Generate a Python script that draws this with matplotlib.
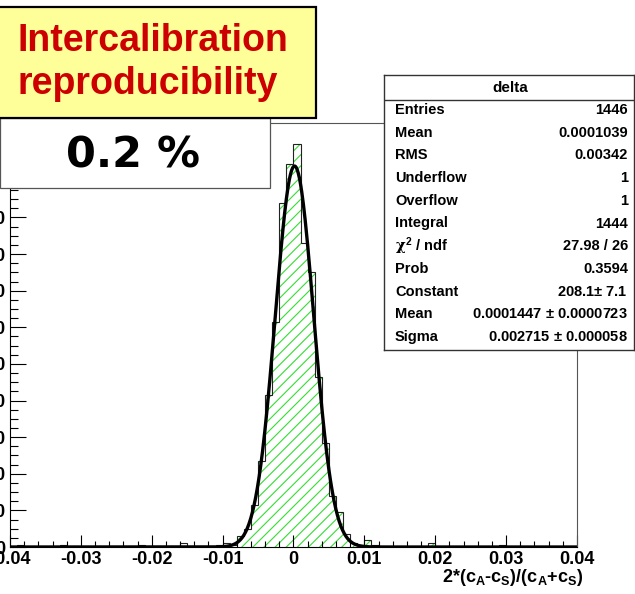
import matplotlib.pyplot as plt
import matplotlib.patches as patches
import numpy as np

plt.rcParams['font.family'] = ['Liberation Sans', 'DejaVu Sans']
plt.rcParams['font.weight'] = 'bold'
plt.rcParams['mathtext.fontset'] = 'custom'
plt.rcParams['mathtext.rm'] = 'Liberation Sans:bold'
plt.rcParams['mathtext.bf'] = 'Liberation Sans:bold'
plt.rcParams['mathtext.it'] = 'DejaVu Serif'
plt.rcParams['hatch.linewidth'] = 0.8

# histogram: 80 bins of 0.001 in [-0.04, 0.04]
x_min = -0.04
x_max = 0.04
nbin = 80
# central part, bins starting at -0.012
core_start = -0.012
core_counts = [0, 1, 2, 1, 6, 10, 23, 47, 83, 123, 188, 209,
               220, 166, 150, 93, 57, 28, 19, 7, 2, 1, 4, 1]
# isolated entries in the tails (bin lower edge, count)
tail_lo = [-0.039, -0.033, -0.022, -0.016, 0.019, 0.029]
tail_counts = [1, 1, 1, 2, 2, 1]

# fit result from the stat box
fit_const = 208.1
fit_mean = 0.0001447
fit_sigma = 0.002715

stat_names = ['Entries', 'Mean', 'RMS', 'Underflow', 'Overflow', 'Integral',
              r'$\chi^{2}$ / ndf', 'Prob', 'Constant', 'Mean', 'Sigma']
stat_values = ['1446', '0.0001039', '0.00342', '1', '1', '1444',
               '27.98 / 26', '0.3594', r'208.1$\pm$ 7.1',
               r'0.0001447 $\pm$ 0.0000723', r'0.002715 $\pm$ 0.000058']

edges = np.linspace(x_min, x_max, nbin + 1)
counts = np.zeros(nbin)
i0 = int(round((core_start - x_min) / 0.001))
counts[i0:i0 + len(core_counts)] = core_counts
for lo, c in zip(tail_lo, tail_counts):
    counts[int(round((lo - x_min) / 0.001))] += c

W, H = 635, 594
fig = plt.figure(figsize=(W / 100, H / 100), dpi=100)
ax = fig.add_axes([10 / W, 1 - 547 / H, 567 / W, 424 / H])

ax.stairs(counts, edges, fill=True, facecolor='none', edgecolor='#33dd33',
          hatch='///', linewidth=0)
ax.stairs(counts, edges, color='#222222', linewidth=0.8)

xf = np.linspace(x_min, x_max, 1000)
ax.plot(xf, fit_const * np.exp(-0.5 * ((xf - fit_mean) / fit_sigma) ** 2),
        color='black', lw=2.4, solid_capstyle='butt')

ax.set_xlim(x_min, x_max)
ax.set_ylim(0, 231.6)
ax.set_xticks(np.arange(-0.04, 0.0401, 0.01))
ax.set_xticklabels(['-0.04', '-0.03', '-0.02', '-0.01', '0', '0.01', '0.02', '0.03', '0.04'])
ax.set_xticks(np.arange(-0.04, 0.0401, 0.002), minor=True)
ax.set_yticks(np.arange(0, 201, 20))
ax.set_yticks(np.arange(0, 231, 5), minor=True)
ax.tick_params(axis='both', which='both', direction='in', width=0.8, labelsize=13)
ax.tick_params(axis='x', which='major', length=8.5, pad=3)
ax.tick_params(axis='x', which='minor', length=4.3)
ax.tick_params(axis='y', which='major', length=11.5, pad=3)
ax.tick_params(axis='y', which='minor', length=5.8)
for lab in ax.get_xticklabels() + ax.get_yticklabels():
    lab.set_fontweight('bold')
ax.spines['top'].set_color('#555555')
ax.spines['right'].set_color('#555555')
ax.spines['top'].set_linewidth(0.8)
ax.spines['right'].set_linewidth(0.8)

fig.text(583 / W, 1 - 578 / H,
         r'2*(c$_{\mathbf{A}}$-c$_{\mathbf{S}}$)/(c$_{\mathbf{A}}$+c$_{\mathbf{S}}$)',
         ha='right', va='center', fontsize=13, fontweight='bold')

# stat box
sb = fig.add_axes([384 / W, 1 - 350 / H, 250 / W, 275 / H])
sb.set_xlim(384, 634)
sb.set_ylim(350, 75)
sb.set_xticks([])
sb.set_yticks([])
sb.set_facecolor('white')
for s in sb.spines.values():
    s.set_color('#333333')
    s.set_linewidth(1.0)
sb.axhline(100, color='#333333', lw=1.0)
sb.text(510, 88, 'delta', ha='center', va='center', fontsize=11, fontweight='bold')
for k in range(len(stat_names)):
    y = 110 + k * 22.7
    sb.text(395, y, stat_names[k], ha='left', va='center', fontsize=10.5, fontweight='bold')
    sb.text(628, y, stat_values[k], ha='right', va='center', fontsize=10.5, fontweight='bold')

# title boxes
fig.add_artist(patches.Rectangle((0, 1 - 188 / H), 270 / W, 70 / H, transform=fig.transFigure,
                                 facecolor='white', edgecolor='#555555', lw=0.9))
fig.text(133 / W, 1 - 155 / H, '0.2 %', family='DejaVu Sans', fontweight='bold',
         fontsize=31, ha='center', va='center')
fig.add_artist(patches.Rectangle((-2 / W, 1 - 118 / H), 318 / W, 111 / H, transform=fig.transFigure,
                                 facecolor='#ffff99', edgecolor='black', lw=1.6))
fig.text(18 / W, 1 - 41 / H, 'Intercalibration', color='#cc0000', fontweight='bold',
         fontsize=27, ha='left', va='center')
fig.text(18 / W, 1 - 84 / H, 'reproducibility', color='#cc0000', fontweight='bold',
         fontsize=27, ha='left', va='center')

fig.savefig('out.png', dpi=100)
